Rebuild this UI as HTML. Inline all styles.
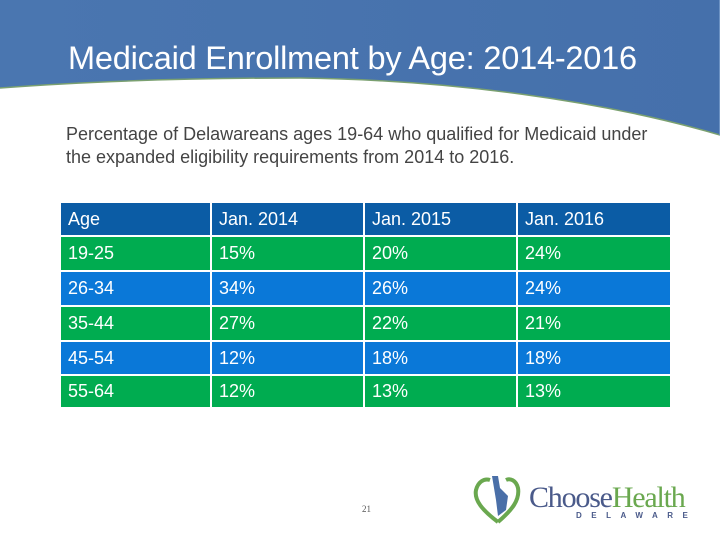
<!DOCTYPE html>
<html><head><meta charset="utf-8">
<style>
body{margin:0;width:720px;height:540px;overflow:hidden;background:#fff;font-family:"Liberation Sans",sans-serif;position:relative}
#hdr{position:absolute;left:0;top:0}
.title{position:absolute;left:68px;top:40px;font-size:32.5px;color:#fff;letter-spacing:-0.2px}
.sub{position:absolute;left:66px;top:123px;font-size:18px;line-height:23px;color:#444}
.cell{position:absolute;color:#fff;font-size:18px;box-sizing:border-box;padding-left:7px;display:flex;align-items:center}
.page{position:absolute;left:362px;top:504px;font-size:9px;color:#555;font-family:"Liberation Serif",serif}
</style></head><body>
<svg id="hdr" width="720" height="140">
<defs><linearGradient id="g" x1="0" y1="0" x2="1" y2="0"><stop offset="0" stop-color="#4a76b0"/><stop offset="1" stop-color="#4570ab"/></linearGradient></defs>
<path d="M0 0H720V135C600 100 450 80 300 78C180 78 80 82 0 88Z" fill="url(#g)"/>
<path d="M0 88C80 82 180 78 300 78C450 80 600 100 720 135" fill="none" stroke="#7aa070" stroke-width="1.5"/>
<path d="M720 0V135" stroke="#6d93c4" stroke-width="2"/>
</svg>
<div class="title">Medicaid Enrollment by Age: 2014-2016</div>
<div class="sub">Percentage of Delawareans ages 19-64 who qualified for Medicaid under<br>the expanded eligibility requirements from 2014 to 2016.</div>
<div id="tbl"></div>
<div class="page">21</div>
<svg style="position:absolute;left:470px;top:470px" width="250" height="60">
<path d="M28 52C12 40 4 30 6 20C8 12 14 8 20 10" fill="none" stroke="#6aa84f" stroke-width="4"/>
<path d="M28 52C42 40 50 30 48 18C46 10 40 8 36 10" fill="none" stroke="#6aa84f" stroke-width="4"/>
<path d="M22 6L28 6L30 18L38 26L36 40L28 46L26 30Z" fill="#4a6fa8"/>
<text x="59" y="37" font-family="Liberation Serif,serif" font-size="30" fill="#4a5a8a" letter-spacing="-1.2">Choose<tspan fill="#6aa84f">Health</tspan></text>
<text x="106" y="48" font-family="Liberation Sans,sans-serif" font-size="8" font-weight="bold" fill="#4a5a8a" letter-spacing="9.5">DELAWARE</text>
</svg>
<script>
const headers=["Age","Jan. 2014","Jan. 2015","Jan. 2016"];
const ages=["19-25","26-34","35-44","45-54","55-64"];
const jan2014=["15%","34%","27%","12%","12%"];
const jan2015=["20%","26%","22%","18%","13%"];
const jan2016=["24%","24%","21%","18%","13%"];
const colX=[61,212,365,518,672];
const rowY=[203,237,272,307,342,376,409];
const tbl=document.getElementById('tbl');
function cell(r,c,txt,bg,bold){
  const d=document.createElement('div');
  d.className='cell';
  
  
  d.style.left=colX[c]+'px';d.style.top=rowY[r]+'px';
  d.style.width=(colX[c+1]-colX[c]-2)+'px';d.style.height=(rowY[r+1]-rowY[r]-2)+'px';
  d.style.background=bg;if(bold)d.style.fontWeight='bold';
  d.textContent=txt;tbl.appendChild(d);
}
headers.forEach((h,c)=>cell(0,c,h,'#0b5ca5',false));
ages.forEach((a,i)=>{
  const bg=i%2===0?'#00ac50':'#0a78d8';
  [a,jan2014[i],jan2015[i],jan2016[i]].forEach((t,c)=>cell(i+1,c,t,bg,false));
});
</script>
</body></html>
